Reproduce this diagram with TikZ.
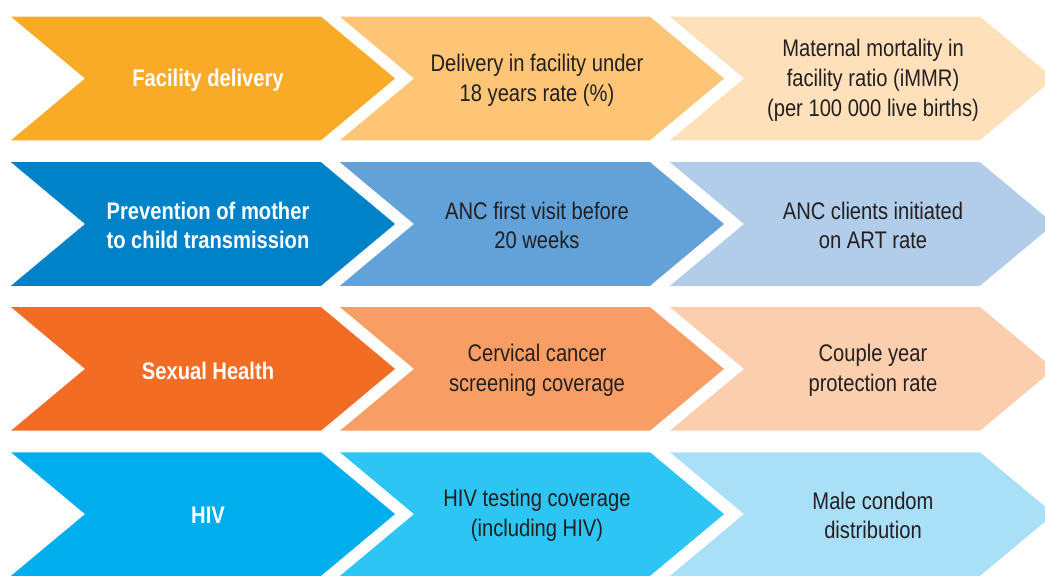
\documentclass[tikz,border=0pt]{standalone}
\usepackage{fontspec}
\setmainfont[FakeStretch=0.84]{Liberation Sans}
\definecolor{txtdark}{HTML}{231F20}
% row 1: facility delivery
\definecolor{fdA}{HTML}{F9AB27}
\definecolor{fdB}{HTML}{FDC575}
\definecolor{fdC}{HTML}{FEE1BA}
% row 2: PMTCT
\definecolor{pmA}{HTML}{0082C8}
\definecolor{pmB}{HTML}{62A2D8}
\definecolor{pmC}{HTML}{B1CDEA}
% row 3: sexual health
\definecolor{shA}{HTML}{F36C23}
\definecolor{shB}{HTML}{F89E65}
\definecolor{shC}{HTML}{FBCEAE}
% row 4: HIV
\definecolor{hvA}{HTML}{00AEEE}
\definecolor{hvB}{HTML}{2DC5F4}
\definecolor{hvC}{HTML}{AADFF8}
% chevron: #1 left x, #2 top y, #3 fill colour
\newcommand\mychev[3]{%
  \fill[#3] (#1,#2) -- ++(310,0) -- ++(74,61.8) -- ++(-74,61.8)
    -- ++(-310,0) -- ++(74,-61.8) -- cycle;}
\begin{document}
\begin{tikzpicture}[x=1pt,y=-1pt,
  lead/.style={text=white,font=\fontsize{24}{29}\selectfont\bfseries,align=center,inner sep=0pt},
  item/.style={text=txtdark,font=\fontsize{24}{29.8}\selectfont,align=center,inner sep=0pt}]
\clip (0,0) rectangle (1045,577);
\fill[white] (0,0) rectangle (1045,577);
% chevrons
\mychev{11}{16.7}{fdA}\mychev{340}{16.7}{fdB}\mychev{670}{16.7}{fdC}
\mychev{11}{162.2}{pmA}\mychev{340}{162.2}{pmB}\mychev{670}{162.2}{pmC}
\mychev{11}{307.1}{shA}\mychev{340}{307.1}{shB}\mychev{670}{307.1}{shC}
\mychev{11}{452.3}{hvA}\mychev{340}{452.3}{hvB}\mychev{670}{452.3}{hvC}
% labels
\node[lead] (fd1) at (208,80) {Facility delivery};
\node[item] (fd2) at (537,80) {Delivery in facility under\\18 years rate (\%)};
\node[item] (fd3) at (873,80) {Maternal mortality in\\facility ratio (iMMR)\\(per 100 000 live births)};
\node[lead] (pm1) at (208,225.5) {Prevention of mother\\to child transmission};
\node[item] (pm2) at (537,225.5) {ANC first visit before\\20 weeks};
\node[item] (pm3) at (873,225.5) {ANC clients initiated\\on ART rate};
\node[lead] (sh1) at (208,370.5) {Sexual Health};
\node[item] (sh2) at (537,370.5) {Cervical cancer\\screening coverage};
\node[item] (sh3) at (873,370.5) {Couple year\\protection rate};
\node[lead] (hv1) at (208,515.5) {HIV};
\node[item] (hv2) at (537,515.5) {HIV testing coverage\\(including HIV)};
\node[item] (hv3) at (873,515.5) {Male condom\\distribution};
\end{tikzpicture}
\end{document}
